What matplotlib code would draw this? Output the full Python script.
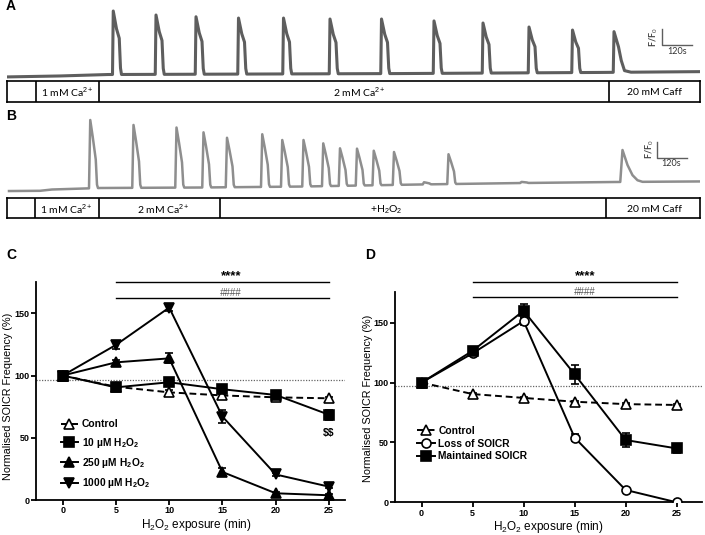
import numpy as np
import matplotlib
matplotlib.use("Agg")
import matplotlib.pyplot as plt

plt.rcParams['font.family'] = ['Liberation Sans', 'DejaVu Sans']
plt.rcParams['mathtext.fontset'] = 'custom'
plt.rcParams['mathtext.rm'] = 'Liberation Sans'
plt.rcParams['mathtext.it'] = 'Liberation Sans:italic'
plt.rcParams['mathtext.bf'] = 'Liberation Sans:bold'

W, H = 705, 535

# ---------------- Trace data (time in s, F/F0 units) ----------------
A_base_t = [0, 212, 404, 1572, 2372, 2772]
A_base_v = [0.88, 0.94, 1.03, 1.09, 1.16, 1.21]
A_spike_t = [425, 596, 756, 926, 1106, 1292, 1498, 1708, 1904, 2088, 2262]
A_spike_peak = [5.00, 4.75, 4.64, 4.56, 4.56, 4.50, 4.50, 4.38, 4.25, 4.00, 3.81]
A_caff_t = [2428]
A_caff_peak = [3.71]

B_base_t = [8, 132, 180, 372, 772, 1172, 1652, 2052, 2432, 2772]
B_base_v = [0.81, 0.825, 0.906, 1.00, 1.03, 1.09, 1.22, 1.31, 1.375, 1.41]
B_spike_t = [333, 506, 678, 786, 880, 1021, 1101, 1186, 1265, 1332, 1400, 1467, 1548, 1668, 1766, 2058]
B_spike_peak = [5.25, 4.94, 4.78, 4.48, 4.14, 4.36, 4.00, 4.00, 3.79, 3.48, 3.46, 3.33, 3.25, 1.36, 3.11, 1.38]
B_caff_t = [2462]
B_caff_peak = [3.375]

# spike shape templates (time offset s, fraction of amplitude)
A_tmpl = ([-3, 0, 13, 24, 29, 33], [0, 1, 0.72, 0.57, 0.10, 0])
A_caff_tmpl = ([-3, 0, 18, 29, 42, 68], [0, 1, 0.625, 0.29, 0.04, 0])
B_tmpl = ([-5, 0, 10, 22, 27, 31], [0, 1, 0.75, 0.42, 0.05, 0])
B_caff_tmpl = ([-9, 0, 20, 40, 60, 80], [0, 1, 0.53, 0.21, 0.05, 0])

A_segments = [0, 116, 366, 2406, 2772]
A_seg_labels = ["1 mM Ca$^{\\mathrm{2+}}$", "2 mM Ca$^{\\mathrm{2+}}$", "20 mM Caff"]
A_label_t = [241, 1408, 2589]
B_segments = [0, 113, 366, 853, 2397, 2772]
B_seg_labels = ["1 mM Ca$^{\\mathrm{2+}}$", "2 mM Ca$^{\\mathrm{2+}}$", "+H$_{\\mathrm{2}}$O$_{\\mathrm{2}}$", "20 mM Caff"]
B_label_t = [239, 625, 1516, 2589]

# ---------------- Panel C / D data ----------------
time_min = [0, 5, 10, 15, 20, 25]
C_control = [100, 91, 86.5, 84, 82.5, 81.7]
C_control_err = [0, 1, 1.5, 1.5, 1, 1]
C_10uM = [100, 90.5, 94.6, 89, 84.4, 68.5]
C_10uM_err = [0, 3, 3, 2, 3, 4]
C_250uM = [100, 110.6, 113.8, 22.5, 5.4, 3.8]
C_250uM_err = [0, 1.5, 4, 3, 1, 1]
C_1000uM = [100, 124.6, 154.6, 67, 20.5, 10.7]
C_1000uM_err = [0, 3, 3, 5, 1.5, 1]
C_dotted = 96.5

D_control = [100, 90.4, 87.2, 84, 82, 81.3]
D_control_err = [0, 1, 1, 1, 1, 1]
D_loss = [100, 124.4, 151.4, 54, 10.3, 0]
D_loss_err = [0, 2, 3, 3, 1, 0]
D_maint = [100, 126.5, 160, 106.9, 52, 45]
D_maint_err = [0, 3, 6, 8, 6, 4]
D_dotted = 97.2


def prect(x0, y0, x1, y1):
    return [x0 / W, 1 - y1 / H, (x1 - x0) / W, (y1 - y0) / H]


def build_trace(base_t, base_v, events):
    pts = []
    windows = []
    for ts, pk, (dts, fs) in events:
        b = np.interp(ts, base_t, base_v)
        amp = pk - b
        for dt, f in zip(dts, fs):
            tt = ts + dt
            pts.append((tt, np.interp(tt, base_t, base_v) + f * amp))
        windows.append((ts + dts[0], ts + dts[-1]))
    for t, v in zip(base_t, base_v):
        if not any(a <= t <= b for a, b in windows):
            pts.append((t, v))
    pts.sort()
    return [p[0] for p in pts], [p[1] for p in pts]


fig = plt.figure(figsize=(W / 100, H / 100), dpi=100)

# ---------------- Trace A ----------------
axA = fig.add_axes(prect(7, 0, 700, 80))
evA = [(t, p, A_tmpl) for t, p in zip(A_spike_t, A_spike_peak)] + \
      [(t, p, A_caff_tmpl) for t, p in zip(A_caff_t, A_caff_peak)]
tA, vA = build_trace(A_base_t, A_base_v, evA)
axA.plot(tA, vA, color='#5e5e5e', lw=2.2, solid_joinstyle='round')
axA.set_xlim(0, 2772)
axA.set_ylim(1 + (75 - 80) / 16, 1 + 75 / 16)
axA.axis('off')
axA.plot([2619, 2619, 2739], [3.875, 2.875, 2.875], color='#5e5e5e', lw=1.0)
axA.text(2588, 3.4, "F/F$_{\\mathrm{0}}$", rotation=90, ha='center', va='center',
         fontsize=6.5, fontweight='bold', color='#444444', family='Lato')
axA.text(2679, 2.5, "120s", ha='center', va='center', fontsize=6.5, color='#333333', family='Lato')

# ---------------- Trace B ----------------
axB = fig.add_axes(prect(7, 112, 700, 197))
evB = [(t, p, B_tmpl) for t, p in zip(B_spike_t, B_spike_peak)] + \
      [(t, p, B_caff_tmpl) for t, p in zip(B_caff_t, B_caff_peak)]
tB, vB = build_trace(B_base_t, B_base_v, evB)
axB.plot(tB, vB, color='#8e8e8e', lw=1.8, solid_joinstyle='round')
axB.set_xlim(0, 2772)
axB.set_ylim(1 + (188 - 197) / 16, 1 + (188 - 112) / 16)
axB.axis('off')
axB.plot([2601, 2601, 2721], [3.86, 2.86, 2.86], color='#5e5e5e', lw=1.0)
axB.text(2570, 3.45, "F/F$_{\\mathrm{0}}$", rotation=90, ha='center', va='center',
         fontsize=6.5, fontweight='bold', color='#444444', family='Lato')
axB.text(2655, 2.5, "120s", ha='center', va='center', fontsize=6.5, color='#333333', family='Lato')


def protocol(rect, segs, labels, label_t):
    ax = fig.add_axes(rect)
    ax.set_xlim(segs[0], segs[-1])
    ax.set_ylim(0, 1)
    ax.set_xticks([])
    ax.set_yticks([])
    for s in ax.spines.values():
        s.set_linewidth(1.2)
    for b in segs[1:-1]:
        ax.axvline(b, color='black', lw=1.2)
    for lab, t in zip(labels, label_t):
        ax.text(t, 0.45, lab, ha='center', va='center', fontsize=7.5, family='Lato')
    return ax


protocol(prect(7, 81, 700, 101.7), A_segments, A_seg_labels, A_label_t)
protocol(prect(7, 198.3, 700, 218.3), B_segments, B_seg_labels, B_label_t)

fig.text(11 / W, 1 - 6 / H, "A", fontsize=10, fontweight='bold', ha='center', va='center')
fig.text(11 / W, 1 - 116 / H, "B", fontsize=10, fontweight='bold', ha='center', va='center')
fig.text(11 / W, 1 - 255 / H, "C", fontsize=10, fontweight='bold', ha='center', va='center')
fig.text(370 / W, 1 - 255 / H, "D", fontsize=10, fontweight='bold', ha='center', va='center')

LW = 1.4
MEW = 1.2


def style_axes(ax, xlim):
    ax.set_xlim(*xlim)
    ax.set_ylim(0, 175.4)
    ax.set_xticks(time_min)
    ax.set_yticks([0, 50, 100, 150])
    for s in ['top', 'right']:
        ax.spines[s].set_visible(False)
    for s in ['left', 'bottom']:
        ax.spines[s].set_linewidth(1.3)
    ax.tick_params(direction='out', length=3.5, width=1.3, labelsize=6.5, pad=1.0)
    for lab in ax.get_xticklabels() + ax.get_yticklabels():
        lab.set_fontweight('bold')
    ax.set_xlabel("H$_{\\mathrm{2}}$O$_{\\mathrm{2}}$ exposure (min)", fontsize=8.5)
    ax.set_ylabel("Normalised SOICR Frequency (%)", fontsize=7.8)


def series(ax, y, err, marker, filled, ls='-', label=None, ms=6.5):
    ax.errorbar(time_min, y, yerr=err, fmt='none', ecolor='black', elinewidth=1.2,
                capsize=3, capthick=1.2, zorder=2)
    ax.plot(time_min, y, color='black', lw=LW, ls=ls, marker=marker, ms=ms,
            mfc='black' if filled else 'white', mec='black', mew=MEW, zorder=3, label=label)


def sig(ax, y1, y2, t1, t2, xc):
    ax.plot([5, 25], [y1, y1], color='black', lw=1.0, clip_on=False)
    ax.plot([5, 25], [y2, y2], color='black', lw=1.0, clip_on=False)
    ax.text(xc, t1, "****", ha='center', va='center', fontsize=9.5, fontweight='bold', clip_on=False)
    ax.text(xc, t2, "####", ha='center', va='center', fontsize=7, style='italic',
            color='#555555', clip_on=False)


# ---------------- Panel C ----------------
axC = fig.add_axes(prect(36, 281.7, 345, 500))
style_axes(axC, (-2.5, 26.5))
axC.axhline(C_dotted, color='#666666', lw=0.9, ls=(0, (1, 1.2)), zorder=1)
series(axC, C_control, C_control_err, '^', False, ls=(0, (3.5, 2)), label='Control', ms=7)
series(axC, C_10uM, C_10uM_err, 's', True, label='10 \u00b5M H$_{\\mathbf{2}}$O$_{\\mathbf{2}}$')
series(axC, C_250uM, C_250uM_err, '^', True, label='250 \u00b5M H$_{\\mathbf{2}}$O$_{\\mathbf{2}}$', ms=7)
series(axC, C_1000uM, C_1000uM_err, 'v', True, label='1000 \u00b5M H$_{\\mathbf{2}}$O$_{\\mathbf{2}}$', ms=7)
axC.text(25, 53.8, "\\$\\$", ha='center', va='center', fontsize=7.5, fontweight='bold')
sig(axC, 174.9, 162.1, 179.5, 166.0, 15.8)
axC.xaxis.set_label_coords(0.52, -0.08)
axC.yaxis.set_label_coords(-0.075, 0.476)
axC.legend(loc='upper left', bbox_to_anchor=(0.08, 0.37), frameon=False,
           borderpad=0, borderaxespad=0, handlelength=1.7, handletextpad=0.35,
           labelspacing=0.62, prop={'size': 7.4, 'weight': 'bold'})

# ---------------- Panel D ----------------
axD = fig.add_axes(prect(395, 292.3, 701.7, 502.3))
style_axes(axD, (-2.6, 27.45))
axD.axhline(D_dotted, color='#666666', lw=0.9, ls=(0, (1, 1.2)), zorder=1)
series(axD, D_control, D_control_err, '^', False, ls=(0, (3.5, 2)), label='Control', ms=7)
series(axD, D_loss, D_loss_err, 'o', False, label='Loss of SOICR')
series(axD, D_maint, D_maint_err, 's', True, label='Maintained SOICR')
sig(axD, 184.4, 171.3, 189.0, 176.0, 16.0)
axD.xaxis.set_label_coords(0.50, -0.08)
axD.yaxis.set_label_coords(-0.072, 0.497)
axD.legend(loc='upper left', bbox_to_anchor=(0.072, 0.365), frameon=False,
           borderpad=0, borderaxespad=0, handlelength=1.7, handletextpad=0.35,
           labelspacing=0.28, prop={'size': 7.4, 'weight': 'bold'})

fig.savefig("out.png", dpi=100)
